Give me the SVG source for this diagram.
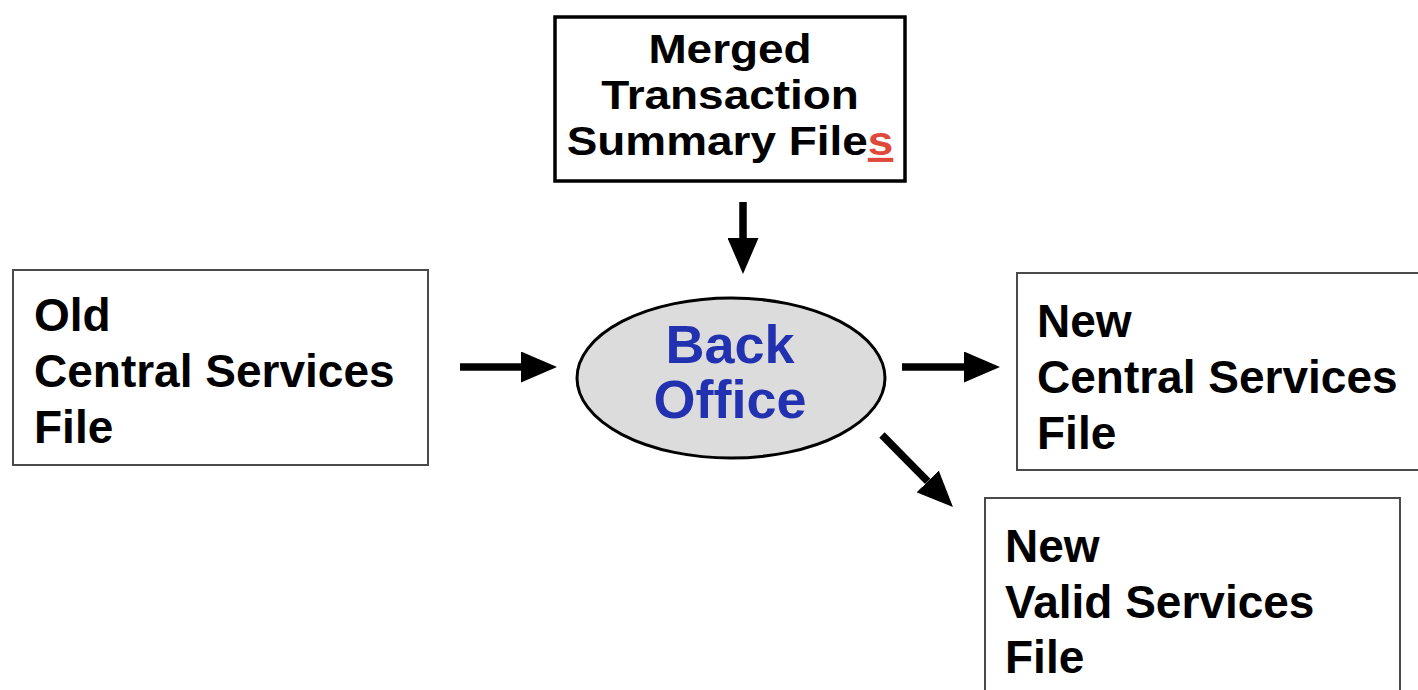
<svg xmlns="http://www.w3.org/2000/svg" width="1418" height="690" viewBox="0 0 1418 690">
  <style>
    .file { fill: #ffffff; stroke: #4a4a4a; stroke-width: 2; }
    .label { font-family: "Liberation Sans", Arial, Helvetica, sans-serif; font-weight: bold; font-size: 46px; fill: #000000; }
    .title { font-family: "Liberation Sans", Arial, Helvetica, sans-serif; font-weight: bold; font-size: 41px; fill: #000000; text-anchor: middle; }
    .proc { fill: #dcdcdc; stroke: #000000; stroke-width: 3; }
    .proc-label { font-family: "Liberation Sans", Arial, Helvetica, sans-serif; font-weight: bold; font-size: 54px; fill: #2231b0; text-anchor: middle; }
    .flow { stroke: #000000; stroke-width: 7.5; fill: none; marker-end: url(#head); }
    .mark { fill: #e0493a; text-decoration: underline; }
  </style>
  <defs>
    <marker id="head" viewBox="0 0 36 31" refX="0" refY="15.5" markerWidth="36" markerHeight="31" markerUnits="userSpaceOnUse" orient="auto">
      <path d="M0,0 L36,15.5 L0,31 Z" fill="#000000"/>
    </marker>
  </defs>

  <rect width="1418" height="690" fill="#ffffff"/>

  <!-- input: merged summaries (wide set type) -->
  <g id="merged-summaries">
    <rect x="555" y="17" width="350" height="164" fill="#ffffff" stroke="#000000" stroke-width="3.5"/>
    <g transform="translate(730 0) scale(1.12 1)">
      <text class="title" x="0" y="63">Merged</text>
      <text class="title" x="0" y="109">Transaction</text>
      <text class="title" x="0" y="155">Summary File<tspan class="mark">s</tspan></text>
    </g>
  </g>

  <!-- input: old central services file -->
  <g id="old-central-services">
    <rect class="file" x="13" y="270" width="415" height="195"/>
    <text class="label" x="34" y="331">Old</text>
    <text class="label" x="34" y="387">Central Services</text>
    <text class="label" x="34" y="443">File</text>
  </g>

  <!-- process -->
  <g id="back-office">
    <ellipse class="proc" cx="731" cy="378" rx="154" ry="80"/>
    <text class="proc-label" x="730" y="363">Back</text>
    <text class="proc-label" x="730" y="418">Office</text>
  </g>

  <!-- output: new central services file -->
  <g id="new-central-services">
    <rect class="file" x="1017" y="273" width="420" height="197"/>
    <text class="label" x="1037" y="337">New</text>
    <text class="label" x="1037" y="393">Central Services</text>
    <text class="label" x="1037" y="449">File</text>
  </g>

  <!-- output: new valid services file -->
  <g id="new-valid-services">
    <rect class="file" x="985" y="498" width="415" height="210"/>
    <text class="label" x="1005" y="562">New</text>
    <text class="label" x="1005" y="618">Valid Services</text>
    <text class="label" x="1005" y="673">File</text>
  </g>

  <!-- data flows -->
  <g id="connectors">
    <line class="flow" x1="743" y1="202" x2="743" y2="238"/>
    <line class="flow" x1="460" y1="367" x2="521" y2="367"/>
    <line class="flow" x1="902" y1="367" x2="964" y2="367"/>
    <line class="flow" x1="882" y1="435" x2="927.7" y2="481.4"/>
  </g>
</svg>
